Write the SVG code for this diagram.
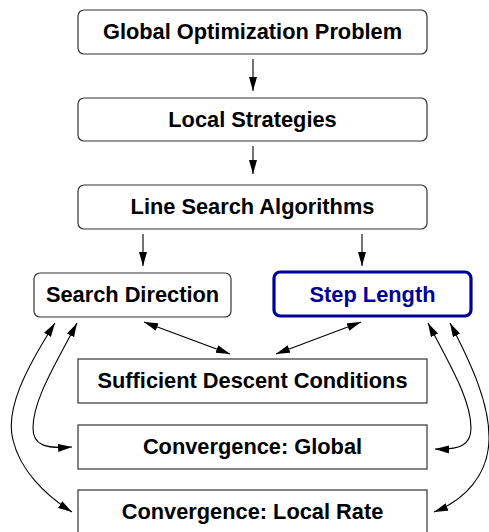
<svg xmlns="http://www.w3.org/2000/svg" width="489" height="532" viewBox="0 0 489 532">
<style>
  .box { fill: #ffffff; stroke: #333333; stroke-width: 1.2; }
  .hl { fill: #ffffff; stroke: #000099; stroke-width: 3.2; }
  .lbl { font-family: "Liberation Sans", Arial, Helvetica, sans-serif; font-weight: bold; font-size: 21.8px; text-anchor: middle; fill: #000000; }
  .lblhl { fill: #000099; }
  .edge { fill: none; stroke: #000000; stroke-width: 1.1; }
</style>
<defs>
  <marker id="ah" markerUnits="userSpaceOnUse" markerWidth="16" markerHeight="10" refX="14" refY="4" orient="auto-start-reverse">
    <path d="M0,0 L14,4 L0,8 z" fill="#000000"/>
  </marker>
</defs>
<rect x="0" y="0" width="489" height="532" fill="#ffffff"/>
<g id="connectors">
  <line class="edge" x1="253" y1="59" x2="253" y2="91" marker-end="url(#ah)"/>
  <line class="edge" x1="253" y1="146" x2="253" y2="174" marker-end="url(#ah)"/>
  <line class="edge" x1="143" y1="234" x2="143" y2="266" marker-end="url(#ah)"/>
  <line class="edge" x1="362" y1="234" x2="362" y2="266" marker-end="url(#ah)"/>
  <line class="edge" x1="144" y1="322" x2="230" y2="354" marker-start="url(#ah)" marker-end="url(#ah)"/>
  <line class="edge" x1="361" y1="322" x2="276" y2="354" marker-start="url(#ah)" marker-end="url(#ah)"/>
  <path class="edge" d="M77,323 C55,365 33,400 33,428 C33,445 45,449 72,447" marker-start="url(#ah)" marker-end="url(#ah)"/>
  <path class="edge" d="M55,323 C25,370 5,410 13,440 C20,470 45,495 72,512" marker-start="url(#ah)" marker-end="url(#ah)"/>
  <path class="edge" d="M428,323 C450,365 471,400 471,428 C471,445 460,450 435,449" marker-start="url(#ah)" marker-end="url(#ah)"/>
  <path class="edge" d="M450,323 C472,365 490,405 489,440 C488,475 465,500 434,512" marker-start="url(#ah)" marker-end="url(#ah)"/>
</g>
<g id="global">
  <rect class="box" x="78" y="10" width="349" height="44" rx="6"/>
  <text class="lbl" x="252.5" y="39">Global Optimization Problem</text>
</g>
<g id="local">
  <rect class="box" x="78" y="98" width="349" height="43" rx="6"/>
  <text class="lbl" x="252.5" y="127">Local Strategies</text>
</g>
<g id="linesearch">
  <rect class="box" x="78" y="185" width="349" height="44" rx="6"/>
  <text class="lbl" x="252.5" y="214">Line Search Algorithms</text>
</g>
<g id="direction">
  <rect class="box" x="34" y="273" width="197" height="44" rx="6"/>
  <text class="lbl" x="132.5" y="302">Search Direction</text>
</g>
<g id="steplength">
  <rect class="hl" x="274" y="272" width="197" height="44" rx="6"/>
  <text class="lbl lblhl" x="372.5" y="301.5">Step Length</text>
</g>
<g id="descent">
  <rect class="box" x="78" y="359" width="349" height="44"/>
  <text class="lbl" x="252.5" y="388">Sufficient Descent Conditions</text>
</g>
<g id="convglobal">
  <rect class="box" x="78" y="425" width="349" height="44"/>
  <text class="lbl" x="252.5" y="454">Convergence: Global</text>
</g>
<g id="convlocal">
  <rect class="box" x="78" y="490" width="349" height="46"/>
  <text class="lbl" x="252.5" y="519">Convergence: Local Rate</text>
</g>
</svg>
